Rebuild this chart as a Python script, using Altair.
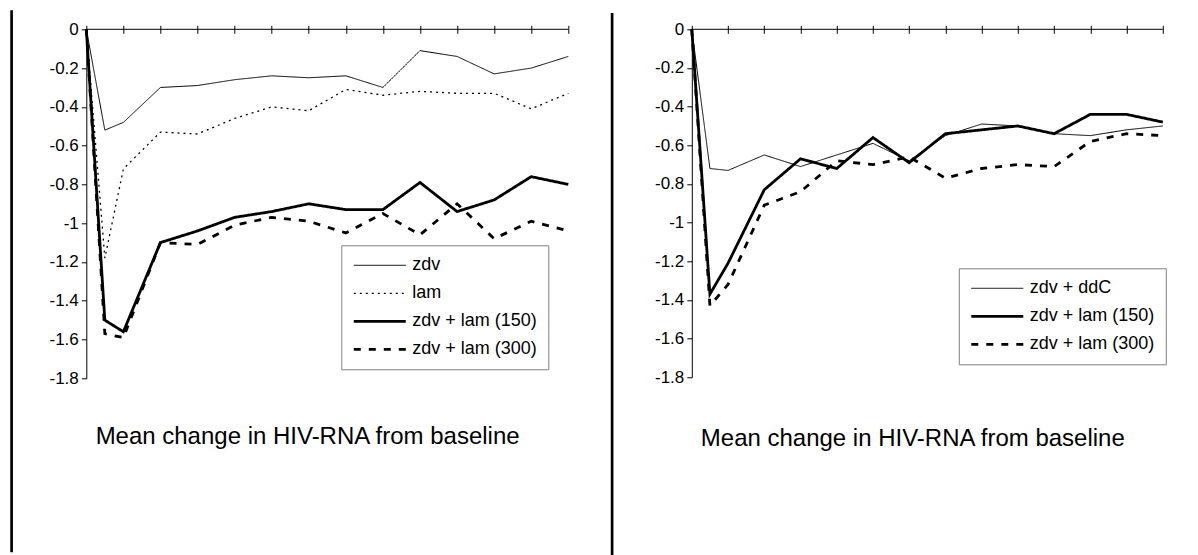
import altair as alt
import pandas as pd

FONT = "Liberation Sans, Arial, Helvetica, sans-serif"

# weeks from baseline (x positions; axis ticks every 4 weeks, no labels)
weeks = [0, 2, 4, 8, 12, 16, 20, 24, 28, 32, 36, 40, 44, 48, 52]
x_ticks = [0, 4, 8, 12, 16, 20, 24, 28, 32, 36, 40, 44, 48, 52]
y_ticks = [0, -0.2, -0.4, -0.6, -0.8, -1.0, -1.2, -1.4, -1.6, -1.8]

title_text = "Mean change in HIV-RNA from baseline"

# ---- left panel ----
left_series = ["zdv", "lam", "zdv + lam (150)", "zdv + lam (300)"]
left_zdv = [0, -0.52, -0.48, -0.30, -0.29, -0.26, -0.24, -0.25, -0.24, -0.30, -0.11, -0.14, -0.23, -0.20, -0.14]
left_lam = [0, -1.18, -0.72, -0.53, -0.54, -0.46, -0.40, -0.42, -0.31, -0.34, -0.32, -0.33, -0.33, -0.41, -0.33]
left_zl150 = [0, -1.50, -1.56, -1.10, -1.04, -0.97, -0.94, -0.90, -0.93, -0.93, -0.79, -0.94, -0.88, -0.76, -0.80]
left_zl300 = [0, -1.57, -1.59, -1.10, -1.11, -1.01, -0.97, -0.99, -1.05, -0.95, -1.06, -0.90, -1.08, -0.99, -1.04]

# ---- right panel ----
right_series = ["zdv + ddC", "zdv + lam (150)", "zdv + lam (300)"]
right_ddc = [0, -0.72, -0.73, -0.65, -0.71, -0.65, -0.59, -0.68, -0.55, -0.49, -0.50, -0.54, -0.55, -0.52, -0.50]
right_zl150 = [0, -1.37, -1.21, -0.83, -0.67, -0.72, -0.56, -0.69, -0.54, -0.52, -0.50, -0.54, -0.44, -0.44, -0.48]
right_zl300 = [0, -1.43, -1.32, -0.91, -0.84, -0.68, -0.70, -0.66, -0.77, -0.72, -0.70, -0.71, -0.58, -0.54, -0.55]

# line styles
SOLID = [1, 0]
DOTTED = [2, 4]
DASHED = [7, 8]
left_dashes = [SOLID, DOTTED, SOLID, DASHED]
left_widths = [1, 1.3, 2.8, 2.8]
right_dashes = [SOLID, SOLID, DASHED]
right_widths = [1, 2.8, 2.8]


def long_df(names, values):
    rows = []
    for name, vals in zip(names, values):
        for w, v in zip(weeks, vals):
            rows.append({"week": w, "change": v, "series": name})
    return pd.DataFrame(rows)


def panel(names, values, dashes, widths, width, height, legend_x, legend_y,
          rule_x, rule_top, rule_bottom, title_dx, title_offset):
    df = long_df(names, values)
    x_enc = alt.X(
        "week:Q",
        scale=alt.Scale(domain=[0, 52], nice=False, zero=False),
        axis=alt.Axis(orient="top", offset=-4, values=x_ticks, tickSize=8,
                      labels=False, domain=False, grid=False, title=None,
                      tickColor="black", tickWidth=1),
    )
    y_axis = alt.Axis(orient="left", values=y_ticks, grid=False, title=None,
                      labelExpr="toString(round(datum.value * 10) / 10)",
                      labelOverlap=False, labelFlush=False,
                      tickSize=5, tickColor="black", tickWidth=1,
                      domainColor="black", domainWidth=1,
                      labelPadding=3, labelFont=FONT, labelFontSize=17,
                      labelColor="black")
    y_scale = alt.Scale(domain=[-1.8, 0], nice=False, zero=False)
    lines = alt.Chart(df).mark_line(color="black").encode(
        x=x_enc,
        y=alt.Y("change:Q", scale=y_scale, axis=y_axis),
        strokeDash=alt.StrokeDash(
            "series:N", sort=names,
            scale=alt.Scale(domain=names, range=dashes),
            legend=alt.Legend(
                orient="none", legendX=legend_x, legendY=legend_y, title=None,
                symbolType="stroke", symbolSize=2704, symbolStrokeColor="black",
                clipHeight=18, rowPadding=10, padding=11,
                strokeColor="#808080", fillColor="white",
                labelFont=FONT, labelFontSize=18, labelColor="black",
                labelOffset=5,
            ),
        ),
        strokeWidth=alt.StrokeWidth(
            "series:N", sort=names,
            scale=alt.Scale(type="ordinal", domain=names, range=widths),
        ),
        detail="series:N",
    )
    zero_line = alt.Chart(pd.DataFrame({"change": [0]})).mark_rule(
        color="black", strokeWidth=1
    ).encode(y=alt.Y("change:Q", scale=y_scale, axis=y_axis))
    border = alt.Chart(pd.DataFrame({"k": [0]})).mark_rule(
        color="black", strokeWidth=2.7
    ).encode(x=alt.value(rule_x), y=alt.value(rule_top), y2=alt.value(rule_bottom))

    return alt.layer(lines, zero_line, border).properties(
        width=width,
        height=height,
        title=alt.TitleParams(
            title_text, orient="bottom", anchor="middle", frame="group",
            font=FONT, fontSize=24, fontWeight="normal", color="black",
            baseline="alphabetic", offset=title_offset, dx=title_dx,
        ),
    )


left = panel(left_series, [left_zdv, left_lam, left_zl150, left_zl300],
             left_dashes, left_widths, 482, 349, 255, 216,
             -74.7, -19, 523, -19.7, -110)
right = panel(right_series, [right_ddc, right_zl150, right_zl300],
              right_dashes, right_widths, 471, 348, 267, 239,
              -79.7, -16.3, 525.7, -14.5, -110)

chart = alt.hconcat(left, right, spacing=35.5).resolve_scale(
    strokeDash="independent", strokeWidth="independent"
).properties(
    padding={"left": 1.3, "top": 0.3, "right": 0, "bottom": 0}
).configure_view(stroke=None).configure_axis(labelOverlap=False)

chart.save("out.html", embed_options={"renderer": "svg", "actions": False})
